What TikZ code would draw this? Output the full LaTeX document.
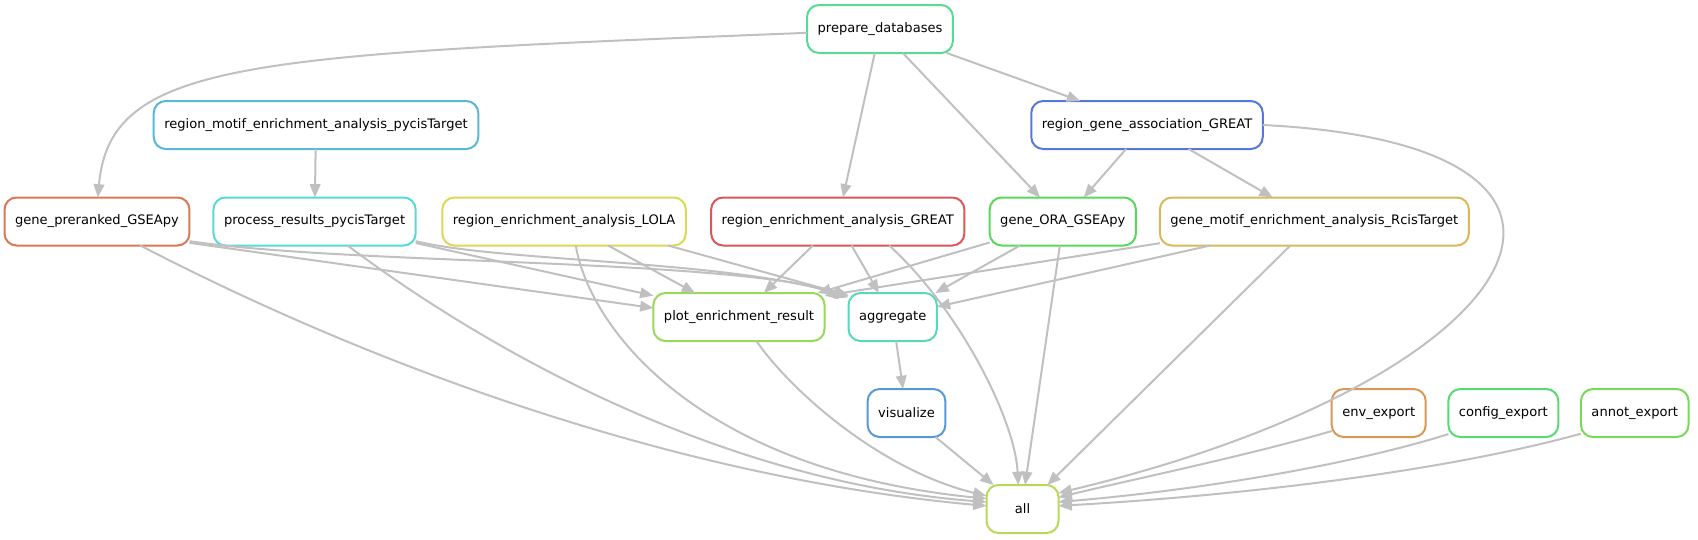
\documentclass[tikz,border=0pt]{standalone}
\usepackage{fontspec}
\setsansfont{DejaVu Sans}
\usetikzlibrary{arrows.meta,positioning}
\definecolor{edgegrey}{RGB}{192,192,192}
\definecolor{cgreat}{RGB}{217,87,87}
\definecolor{cgsea}{RGB}{217,119,87}
\definecolor{cenv}{RGB}{217,152,87}
\definecolor{crcis}{RGB}{217,184,87}
\definecolor{clola}{RGB}{217,217,87}
\definecolor{call}{RGB}{184,217,87}
\definecolor{cplot}{RGB}{152,217,87}
\definecolor{cannot}{RGB}{119,217,87}
\definecolor{cora}{RGB}{87,217,87}
\definecolor{ccfg}{RGB}{87,217,119}
\definecolor{cprep}{RGB}{87,217,152}
\definecolor{cagg}{RGB}{87,217,184}
\definecolor{cproc}{RGB}{87,217,217}
\definecolor{cmotif}{RGB}{87,184,217}
\definecolor{cvis}{RGB}{87,152,217}
\definecolor{cassoc}{RGB}{87,119,217}

\begin{document}
\begin{tikzpicture}[x=0.75pt, y=-0.75pt, font=\sffamily\fontsize{9.8}{12}\selectfont, box/.style={rectangle, rounded corners=9pt, draw, line width=1.5pt, minimum width=54pt, minimum height=36pt, inner xsep=7.9pt, outer sep=0pt}, arrow/.style={-{Triangle[length=10pt,width=8pt]}, line width=1.5pt, draw=edgegrey}]
\useasboundingbox (0,0) rectangle (1698,539);
\node[box, draw=cprep] (prep) at (880,29) {prepare\_databases};
\node[box, draw=cmotif] (motif) at (316,125) {region\_motif\_enrichment\_analysis\_pycisTarget};
\node[box, draw=cassoc] (assoc) at (1147,125) {region\_gene\_association\_GREAT};
\node[box, draw=cgsea] (gsea) at (97,221.5) {gene\_preranked\_GSEApy};
\node[box, draw=cproc, right=18pt of gsea] (proc) {process\_results\_pycisTarget};
\node[box, draw=clola, right=20pt of proc] (lola) {region\_enrichment\_analysis\_LOLA};
\node[box, draw=cgreat, right=19pt of lola] (great) {region\_enrichment\_analysis\_GREAT};
\node[box, draw=cora, right=19pt of great] (ora) {gene\_ORA\_GSEApy};
\node[box, draw=crcis, right=18pt of ora] (rcis) {gene\_motif\_enrichment\_analysis\_RcisTarget};
\node[box, draw=cplot] (plot) at (739,317) {plot\_enrichment\_result};
\node[box, draw=cagg, right=18pt of plot] (agg) {aggregate};
\node[box, draw=cvis] (vis) at (906.5,413) {visualize};
\node[box, draw=cenv] (envx) at (1378.7,413) {env\_export};
\node[box, draw=ccfg, right=17pt of envx] (cfgx) {config\_export};
\node[box, draw=cannot, right=17pt of cfgx] (annx) {annot\_export};
\node[box, draw=call] (all) at (1022.5,509) {all};
\draw[arrow] (prep.183) .. controls (250,55) and (110,60) .. (gsea.88);
\draw[arrow] (prep) -- (great);
\draw[arrow] (prep) -- (ora);
\draw[arrow] (prep) -- (assoc);
\draw[arrow] (motif) -- (proc);
\draw[arrow] (assoc) -- (ora);
\draw[arrow] (assoc) -- (rcis);
\draw[arrow] (assoc.east) .. controls (1670,145) and (1530,380) .. (all.24);
\draw[arrow] (gsea.-13) -- (plot.174);
\draw[arrow] (gsea.-12) .. controls (350,265) and (720,258) .. (agg.154);
\draw[arrow] (gsea.-29) .. controls (400,380) and (700,480) .. (all.175);
\draw[arrow] (proc.-12) -- (plot.166);
\draw[arrow] (proc.-11) .. controls (500,262) and (730,260) .. (agg.156);
\draw[arrow] (proc.-36) .. controls (460,330) and (700,480) .. (all.169);
\draw[arrow] (lola) -- (plot);
\draw[arrow] (lola.-13) -- (agg.154);
\draw[arrow] (lola.-64) .. controls (590,330) and (700,470) .. (all.164);
\draw[arrow] (great) -- (plot);
\draw[arrow] (great) -- (agg);
\draw[arrow] (great.-25) .. controls (960,310) and (1015,420) .. (all.100);
\draw[arrow] (ora.196) -- (plot.17);
\draw[arrow] (ora) -- (agg);
\draw[arrow] (ora.263) -- (all.84);
\draw[arrow] (rcis.188) -- (plot.14);
\draw[arrow] (rcis.193) -- (agg.13);
\draw[arrow] (rcis.225) -- (all.44);
\draw[arrow] (plot.-54) .. controls (790,390) and (880,470) .. (all.160);
\draw[arrow] (agg) -- (vis);
\draw[arrow] (vis) -- (all);
\draw[arrow] (envx.201) .. controls (1250,455) and (1130,480) .. (all.18);
\draw[arrow] (cfgx.201) .. controls (1350,465) and (1200,490) .. (all.11);
\draw[arrow] (annx.201) .. controls (1450,470) and (1250,495) .. (all.5);
\end{tikzpicture}
\end{document}
